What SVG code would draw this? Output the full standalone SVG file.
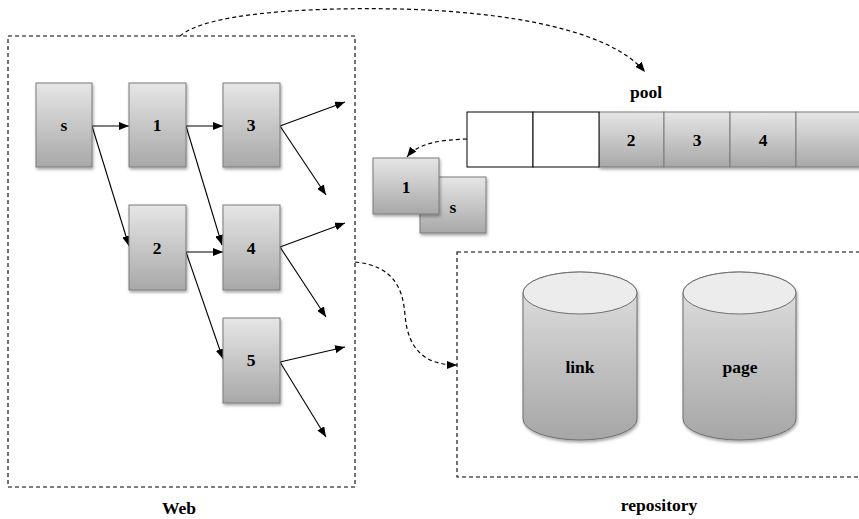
<svg xmlns="http://www.w3.org/2000/svg" width="859" height="519" viewBox="0 0 859 519">
<defs>
<linearGradient id="g" x1="0" y1="0" x2="0" y2="1">
<stop offset="0" stop-color="#e6e6e6"/>
<stop offset="1" stop-color="#a8a8a8"/>
</linearGradient>
<linearGradient id="gc" x1="0" y1="0" x2="0" y2="1">
<stop offset="0" stop-color="#e2e2e2"/>
<stop offset="1" stop-color="#a6a6a6"/>
</linearGradient>
<filter id="sh" x="-20%" y="-20%" width="150%" height="150%">
<feDropShadow dx="1" dy="2" stdDeviation="1.5" flood-color="#000" flood-opacity="0.35"/>
</filter>
<marker id="ah" viewBox="0 0 10 8" refX="10" refY="4" markerWidth="10" markerHeight="8" markerUnits="userSpaceOnUse" orient="auto">
<path d="M0,0 L10,4 L0,8 z" fill="#000"/>
</marker>
</defs>
<style>
.node{fill:url(#g);stroke:#7a7a7a;stroke-width:1;filter:url(#sh)}
.cell{fill:url(#g);stroke:#7a7a7a;stroke-width:1}
.wcell{fill:#fff;stroke:#000;stroke-width:1}
.lbl{font-family:"Liberation Serif",serif;font-weight:bold;font-size:17.5px;text-anchor:middle;fill:#000}
.box{fill:none;stroke:#000;stroke-width:1.1;stroke-dasharray:4,3}
.edge{fill:none;stroke:#000;stroke-width:1.1;marker-end:url(#ah)}
.dash{fill:none;stroke:#000;stroke-width:1.2;stroke-dasharray:4,3;marker-end:url(#ah)}
.cyl{fill:url(#gc);stroke:#6e6e6e;stroke-width:1}
</style>

<g id="web">
<rect class="box" x="8" y="36" width="347" height="451"/>
<text class="lbl" x="179" y="514">Web</text>
</g>

<g id="repository">
<rect class="box" x="457" y="252" width="410" height="225"/>
<text class="lbl" x="659" y="511">repository</text>
</g>

<g id="connectors">
<line class="edge" x1="92" y1="126" x2="129" y2="126"/>
<line class="edge" x1="92" y1="126" x2="129" y2="246"/>
<line class="edge" x1="186" y1="126" x2="223" y2="126"/>
<line class="edge" x1="186" y1="126" x2="222" y2="245"/>
<line class="edge" x1="186" y1="252" x2="223" y2="252"/>
<line class="edge" x1="186" y1="252" x2="223" y2="359"/>
<line class="edge" x1="280" y1="126" x2="345" y2="102"/>
<line class="edge" x1="280" y1="126" x2="326" y2="195"/>
<line class="edge" x1="280" y1="247" x2="345" y2="223"/>
<line class="edge" x1="280" y1="247" x2="326" y2="317"/>
<line class="edge" x1="280" y1="362" x2="345" y2="347"/>
<line class="edge" x1="280" y1="362" x2="326" y2="437"/>
<path class="dash" d="M180,36 C205,14 300,7 400,9 C510,12 610,30 645,72"/>
<path class="dash" d="M467,139 C440,140 418,143 407,157"/>
<path class="dash" d="M355,262 C395,266 403,290 405,315 C408,350 425,365 457,365"/>
</g>

<g id="node-s">
<rect class="node" x="36" y="83" width="56" height="84"/>
<text class="lbl" x="64" y="131">s</text>
</g>
<g id="node-1">
<rect class="node" x="129" y="83" width="57" height="84"/>
<text class="lbl" x="157" y="131">1</text>
</g>
<g id="node-3">
<rect class="node" x="223" y="83" width="57" height="84"/>
<text class="lbl" x="251" y="131">3</text>
</g>
<g id="node-2">
<rect class="node" x="129" y="205" width="57" height="85"/>
<text class="lbl" x="157" y="254">2</text>
</g>
<g id="node-4">
<rect class="node" x="223" y="205" width="57" height="85"/>
<text class="lbl" x="251" y="254">4</text>
</g>
<g id="node-5">
<rect class="node" x="223" y="318" width="57" height="85"/>
<text class="lbl" x="251" y="366">5</text>
</g>

<g id="pool">
<text class="lbl" x="646" y="98">pool</text>
<g filter="url(#sh)">
<rect class="cell" x="599" y="112" width="65" height="55"/>
<rect class="cell" x="664" y="112" width="66" height="55"/>
<rect class="cell" x="730" y="112" width="66" height="55"/>
<rect class="cell" x="796" y="112" width="70" height="55"/>
</g>
<rect class="wcell" x="467" y="112" width="66" height="55"/>
<rect class="wcell" x="533" y="112" width="66" height="55"/>
<text class="lbl" x="631" y="146">2</text>
<text class="lbl" x="697" y="146">3</text>
<text class="lbl" x="763" y="146">4</text>
</g>

<g id="queue-s">
<rect class="node" x="420" y="177" width="66" height="56"/>
<text class="lbl" x="453" y="213">s</text>
</g>
<g id="queue-1">
<rect class="node" x="373" y="158" width="66" height="56"/>
<text class="lbl" x="406" y="193">1</text>
</g>

<g id="db-link">
<path class="cyl" filter="url(#sh)" d="M523,293 A57,21 0 0 1 637,293 L637,419 A57,21 0 0 1 523,419 Z"/>
<ellipse cx="580" cy="293" rx="57" ry="21" fill="#ececec" stroke="#6e6e6e" stroke-width="1"/>
<text class="lbl" x="580" y="373">link</text>
</g>
<g id="db-page">
<path class="cyl" filter="url(#sh)" d="M683,293 A56.5,21 0 0 1 796,293 L796,419 A56.5,21 0 0 1 683,419 Z"/>
<ellipse cx="739.5" cy="293" rx="56.5" ry="21" fill="#ececec" stroke="#6e6e6e" stroke-width="1"/>
<text class="lbl" x="740" y="373">page</text>
</g>
</svg>
